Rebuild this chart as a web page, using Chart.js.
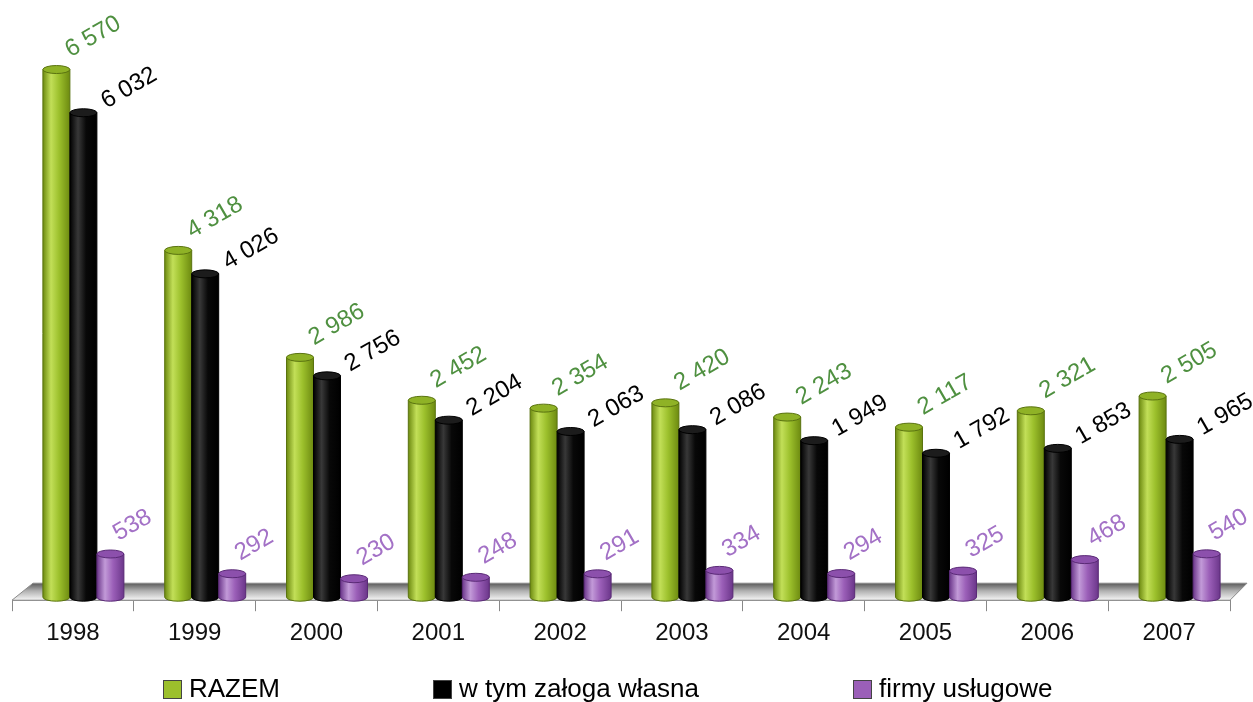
<!DOCTYPE html>
<html>
<head>
<meta charset="utf-8">
<script src="https://cdn.jsdelivr.net/npm/chart.js@4.4.0/dist/chart.umd.min.js"></script>
<style>
    html, body { margin: 0; padding: 0; background: #fff; }
    #wrap { width: 1253px; height: 702px; }
</style>
</head>
<body>
<div id="wrap"><canvas id="chart"></canvas></div>
<script>
// data
const years = ['1998', '1999', '2000', '2001', '2002', '2003', '2004', '2005', '2006', '2007'];
const razem = [6570, 4318, 2986, 2452, 2354, 2420, 2243, 2117, 2321, 2505];
const zalogaWlasna = [6032, 4026, 2756, 2204, 2063, 2086, 1949, 1792, 1853, 1965];
const firmyUslugowe = [538, 292, 230, 248, 291, 334, 294, 325, 468, 540];
const seriesNames = ['RAZEM', 'w tym załoga własna', 'firmy usługowe'];

const FONT = "'Liberation Sans', Arial, sans-serif";

// look of each cylinder series + where its value label sits
const looks = [
    { edge: '#6d8a10', light: '#c2df58', body: '#9cc02c', top: '#8fb226', line: '#5a7310', label: '#4f9040', dx: 14, dy: -12 },
    { edge: '#000000', light: '#383838', body: '#080808', top: '#1c1c1c', line: '#000000', label: '#000000', dx: 23, dy: -4 },
    { edge: '#6b368a', light: '#c29ad8', body: '#9b5fb8', top: '#8c50ac', line: '#5a2a76', label: '#a371c6', dx: 8, dy: -13 }
];
const DEPTH_X = 10.5;
const DEPTH_Y = 3;
const legendX = [163, 433, 853];

function fmt(v) {
    return String(v).replace(/\B(?=(\d{3})+(?!\d))/g, ' ');
}

const cylinders = {
    id: 'cylinders',
    beforeDatasetsDraw(chart) {
        const ctx = chart.ctx;
        const { left, right, bottom } = chart.chartArea;

        // floor
        ctx.save();
        const fg = ctx.createLinearGradient(0, bottom - 17, 0, bottom);
        fg.addColorStop(0, '#5a5a5a');
        fg.addColorStop(0.45, '#b0b0b0');
        fg.addColorStop(1, '#f6f6f6');
        ctx.beginPath();
        ctx.moveTo(left, bottom);
        ctx.lineTo(left + 21, bottom - 17);
        ctx.lineTo(right + 17, bottom - 17);
        ctx.lineTo(right, bottom);
        ctx.closePath();
        ctx.fillStyle = fg;
        ctx.fill();
        ctx.strokeStyle = '#8a8a8a';
        ctx.lineWidth = 1;
        ctx.stroke();
        ctx.restore();

        const tops = [];
        chart.data.datasets.forEach((ds, i) => {
            const meta = chart.getDatasetMeta(i);
            const look = looks[i];
            meta.data.forEach((bar, j) => {
                const w = bar.width;
                const x0 = bar.x - w / 2 + DEPTH_X;
                const x1 = x0 + w;
                const cx = (x0 + x1) / 2;
                const top = bar.y - DEPTH_Y;
                const base = bar.base - DEPTH_Y;
                const ry = 4;

                const g = ctx.createLinearGradient(x0, 0, x1, 0);
                g.addColorStop(0, look.edge);
                g.addColorStop(0.3, look.light);
                g.addColorStop(0.6, look.body);
                g.addColorStop(1, look.edge);

                ctx.save();
                ctx.beginPath();
                ctx.moveTo(x0, top);
                ctx.lineTo(x0, base);
                ctx.ellipse(cx, base, w / 2, ry, 0, Math.PI, 0, true);
                ctx.lineTo(x1, top);
                ctx.closePath();
                ctx.fillStyle = g;
                ctx.fill();
                ctx.strokeStyle = look.line;
                ctx.lineWidth = 1;
                ctx.stroke();

                ctx.beginPath();
                ctx.ellipse(cx, top, w / 2, ry, 0, 0, Math.PI * 2);
                ctx.fillStyle = look.top;
                ctx.fill();
                ctx.stroke();
                ctx.restore();

                tops.push({ x: cx + look.dx, y: top + look.dy, text: fmt(ds.data[j]), color: look.label });
            });
        });

        // value labels
        ctx.save();
        ctx.font = '24px ' + FONT;
        ctx.textAlign = 'left';
        ctx.textBaseline = 'alphabetic';
        tops.forEach(t => {
            ctx.save();
            ctx.translate(t.x, t.y);
            ctx.rotate(-Math.PI / 6);
            ctx.fillStyle = t.color;
            ctx.fillText(t.text, 0, 0);
            ctx.restore();
        });
        ctx.restore();
        return false;
    },
    afterDraw(chart) {
        // legend under the axis
        const ctx = chart.ctx;
        ctx.save();
        ctx.font = '26px ' + FONT;
        ctx.textBaseline = 'middle';
        ctx.textAlign = 'left';
        chart.data.datasets.forEach((ds, i) => {
            const x = legendX[i];
            ctx.fillStyle = ds.backgroundColor;
            ctx.fillRect(x, 680, 18, 18);
            ctx.strokeStyle = '#444';
            ctx.lineWidth = 1;
            ctx.strokeRect(x + 0.5, 680.5, 18, 18);
            ctx.fillStyle = '#000';
            ctx.fillText(ds.label, x + 26, 690);
        });
        ctx.restore();
    }
};

new Chart(document.getElementById('chart').getContext('2d'), {
    type: 'bar',
    data: {
        labels: years,
        datasets: [{
            label: seriesNames[0],
            data: razem,
            backgroundColor: '#9cc02c'
        }, {
            label: seriesNames[1],
            data: zalogaWlasna,
            backgroundColor: '#000000'
        }, {
            label: seriesNames[2],
            data: firmyUslugowe,
            backgroundColor: '#9b5fb8'
        }]
    },
    options: {
        responsive: true,
        maintainAspectRatio: false,
        animation: false,
        layout: {
            padding: { top: 38, left: 12, right: 23, bottom: 46 }
        },
        datasets: {
            bar: {
                categoryPercentage: 0.665,
                barPercentage: 1.0
            }
        },
        plugins: {
            legend: { display: false },
            tooltip: { enabled: false }
        },
        scales: {
            y: {
                display: false,
                min: 0,
                max: 7000
            },
            x: {
                grid: {
                    offset: true,
                    drawOnChartArea: false,
                    tickLength: 11,
                    color: '#888'
                },
                border: { color: '#888' },
                ticks: {
                    color: '#111',
                    padding: 8,
                    font: { family: FONT, size: 24 }
                }
            }
        }
    },
    plugins: [cylinders]
});
</script>
</body>
</html>
